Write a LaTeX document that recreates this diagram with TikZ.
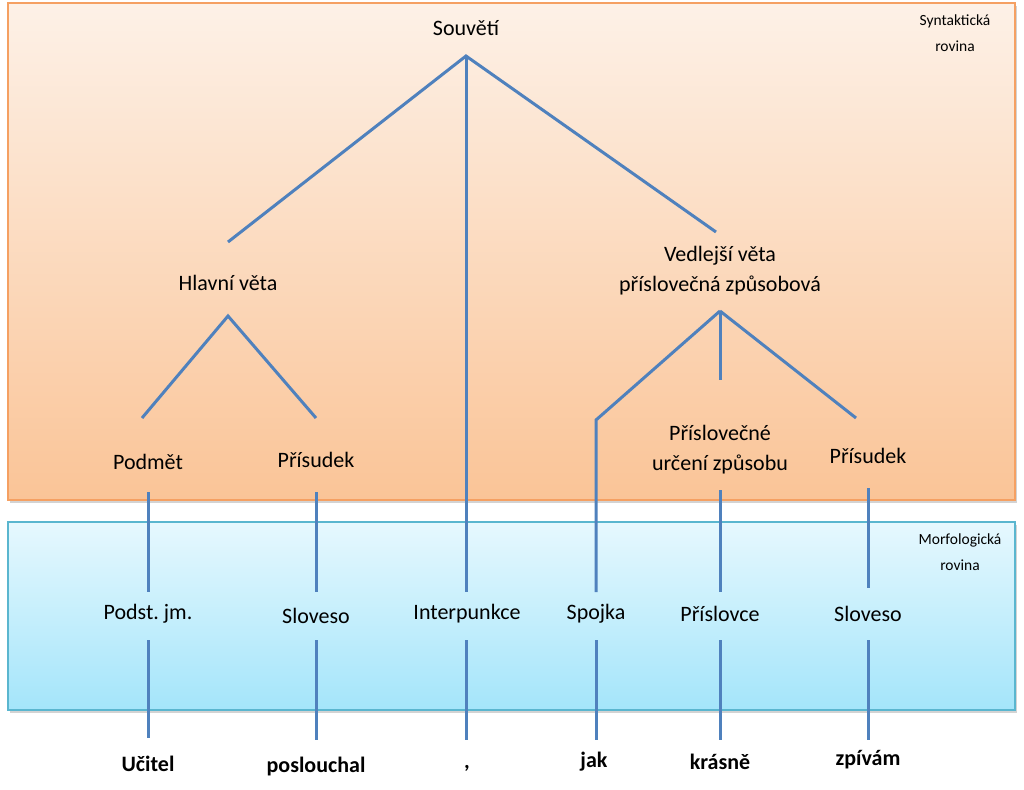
\documentclass[tikz,border=0pt]{standalone}
\usepackage{fontspec}
\setmainfont{Carlito}
\usetikzlibrary{shadows}
\definecolor{lineblue}{HTML}{4F81BD}
\definecolor{orTop}{HTML}{FDF1E7}
\definecolor{orBot}{HTML}{FAC497}
\definecolor{orEdge}{HTML}{F5A062}
\definecolor{blTop}{HTML}{E6F8FE}
\definecolor{blBot}{HTML}{A4E5FA}
\definecolor{blEdge}{HTML}{5AB6CF}
\frenchspacing
\begin{document}
\begin{tikzpicture}[x=1pt,y=-1pt,
  lbl/.style={font=\fontsize{22}{30}\selectfont, align=center, inner sep=0pt},
  word/.style={font=\fontsize{22}{26}\selectfont\bfseries, inner sep=0pt},
  small/.style={font=\fontsize{15.5}{26}\selectfont, align=center, inner sep=0pt},
  conn/.style={draw=lineblue, line width=3pt},
  plane/.style={line width=1.5pt, drop shadow={shadow xshift=2pt, shadow yshift=-3pt, opacity=0.35}}
]
\useasboundingbox (0,0) rectangle (1024,789);
% planes
\path[plane, draw=orEdge, top color=orTop, bottom color=orBot] (8,3) rectangle (1015,500);
\path[plane, draw=blEdge, top color=blTop, bottom color=blBot] (8,522) rectangle (1015,710);
% plane labels
\node[small] (syn) at (955,33) {Syntaktická\\rovina};
\node[small] (mor) at (960,552) {Morfologická\\rovina};
% syntactic labels
\node[lbl] (souveti) at (466,28) {Souvětí};
\node[lbl] (hlavni) at (228,283) {Hlavní věta};
\node[lbl] (vedlejsi) at (720,271) {Vedlejší věta\\příslovečná způsobová};
\node[lbl] (podmet) at (148,462) {Podmět};
\node[lbl] (prisudek1) at (316,460) {Přísudek};
\node[lbl] (pu) at (720,450) {Příslovečné\\určení způsobu};
\node[lbl] (prisudek2) at (868,456) {Přísudek};
% morphological labels
\node[lbl] (podst) at (148,614) {Podst. jm.};
\node[lbl] (slov1) at (316,616) {Sloveso};
\node[lbl] (interp) at (467,614) {Interpunkce};
\node[lbl] (spojka) at (596,614) {Spojka};
\node[lbl] (prislovce) at (720,614) {Příslovce};
\node[lbl] (slov2) at (868,614) {Sloveso};
% words
\node[word] (ucitel) at (148,764) {Učitel};
\node[word] (poslouchal) at (316,766) {poslouchal};
\node[word, anchor=base] (carka) at (467,768) {,};
\node[word] (jak) at (594,762) {jak};
\node[word] (krasne) at (720,762) {krásně};
\node[word] (zpivam) at (868,760) {zpívám};
% coordinates
\coordinate (a0) at (466,56);
\coordinate (a0l) at (228,242);
\coordinate (a0r) at (716,232);
\coordinate (a0d) at (466,592);
\coordinate (a1) at (228,316);
\coordinate (a1l) at (142,418);
\coordinate (a1r) at (316,418);
\coordinate (a2) at (720,311);
\coordinate (a2k) at (596,420);
\coordinate (a2d) at (596,592);
\coordinate (a2m) at (720,380);
\coordinate (a2r) at (856,418);
\coordinate (p1t) at (148,492); \coordinate (p1b) at (148,592);
\coordinate (p2t) at (316,492); \coordinate (p2b) at (316,592);
\coordinate (p3t) at (720,490); \coordinate (p3b) at (720,592);
\coordinate (p4t) at (868,488); \coordinate (p4b) at (868,588);
\coordinate (m1t) at (148,640); \coordinate (m1b) at (148,738);
\coordinate (m2t) at (316,640); \coordinate (m2b) at (316,740);
\coordinate (m3t) at (466,640); \coordinate (m3b) at (466,740);
\coordinate (m4t) at (596,640); \coordinate (m4b) at (596,740);
\coordinate (m5t) at (720,640); \coordinate (m5b) at (720,740);
\coordinate (m6t) at (868,640); \coordinate (m6b) at (868,740);
% connectors
\draw[conn] (a0l) -- (a0) -- (a0r);
\draw[conn] (a0) -- (a0d);
\draw[conn] (a1l) -- (a1) -- (a1r);
\draw[conn] (a2d) -- (a2k) -- (a2);
\draw[conn] (a2) -- (a2m);
\draw[conn] (a2) -- (a2r);
\draw[conn] (p1t) -- (p1b);
\draw[conn] (p2t) -- (p2b);
\draw[conn] (p3t) -- (p3b);
\draw[conn] (p4t) -- (p4b);
\draw[conn] (m1t) -- (m1b);
\draw[conn] (m2t) -- (m2b);
\draw[conn] (m3t) -- (m3b);
\draw[conn] (m4t) -- (m4b);
\draw[conn] (m5t) -- (m5b);
\draw[conn] (m6t) -- (m6b);
\end{tikzpicture}
\end{document}
